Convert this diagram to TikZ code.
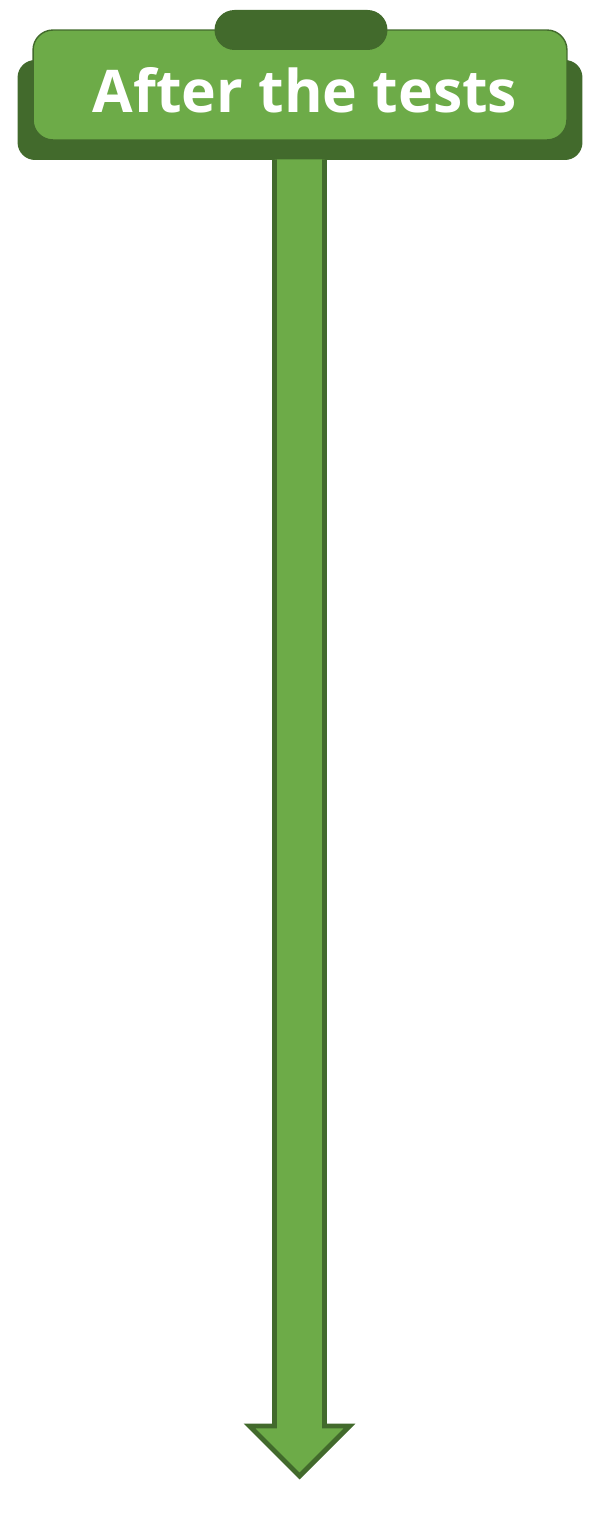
\documentclass[tikz,border=0pt]{standalone}
\usepackage{fontspec}
\setmainfont{Open Sans}
\usetikzlibrary{calc}

\definecolor{signlight}{HTML}{6DAB48}
\definecolor{signdark}{HTML}{426A2C}

\begin{document}
\begin{tikzpicture}[x=0.02cm, y=-0.02cm,
    back/.style={rectangle, fill=signdark, rounded corners=0.35cm,
                 minimum width=11.3cm, minimum height=2cm},
    board/.style={rectangle, fill=signlight, draw=signdark, line width=0.8pt,
                  rounded corners=0.4cm, minimum width=10.68cm, minimum height=2.2cm},
    tab/.style={rectangle, fill=signdark, rounded corners=0.4cm,
                minimum width=3.46cm, minimum height=0.8cm},
    shaft/.style={fill=signlight, draw=signdark, line width=2.8pt, line join=miter},
  ]
  \useasboundingbox (0,0) rectangle (610,1513);

  % sign board
  \node[back] (back) at (300,110) {};
  \node[board] (board) at (300,85) {};
  \node[tab] (tab) at (301,30) {};
  \node[text=white, font=\fontsize{33.5}{36}\selectfont\bfseries] (label) at (305,90) {After the tests};

  % long arrow down from the sign
  \coordinate (tip) at (299.5,1476);
  \draw[shaft] ($(tip |- back.south)+(-25,-1)$) -- ($(tip)+(-25,-50)$) -- ($(tip)+(-50,-50)$)
    -- (tip) -- ($(tip)+(50,-50)$) -- ($(tip)+(25,-50)$) -- ($(tip |- back.south)+(25,-1)$);

\end{tikzpicture}
\end{document}
